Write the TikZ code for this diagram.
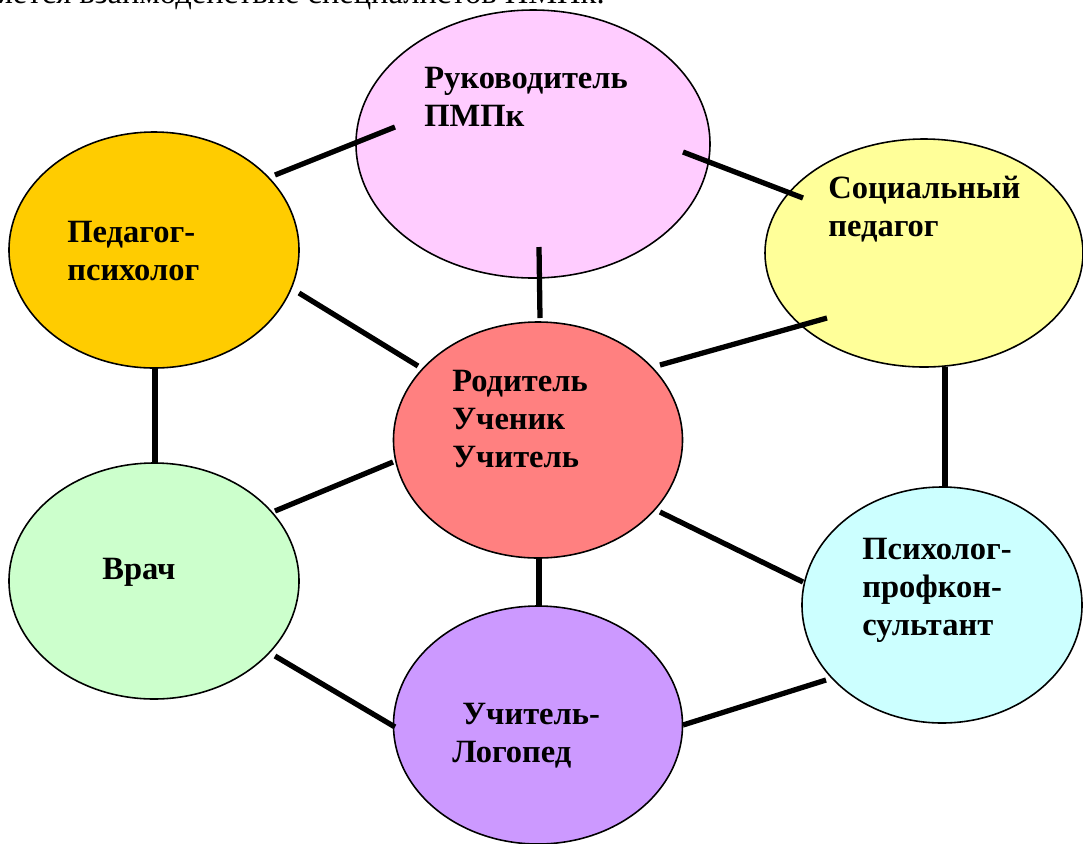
\documentclass[tikz,border=0pt]{standalone}
\usepackage{fontspec}
\setmainfont{Liberation Serif}
\usetikzlibrary{calc,shapes.geometric}
\definecolor{cpink}{HTML}{FFCCFF}
\definecolor{corange}{HTML}{FFCC00}
\definecolor{cyellow}{HTML}{FFFF99}
\definecolor{cred}{HTML}{FF8080}
\definecolor{cgreen}{HTML}{CCFFCC}
\definecolor{cpurple}{HTML}{CC99FF}
\definecolor{ccyan}{HTML}{CCFFFF}
\tikzset{
  oval/.style={ellipse, draw=black, line width=0.9pt, inner sep=0pt},
  lbl/.style={inner sep=0pt, anchor=base west, align=left,
    font=\bfseries\fontsize{18.5}{21.6}\selectfont},
  link/.style={line width=3pt, black},
}
\begin{document}
\begin{tikzpicture}[x=0.02cm, y=-0.02cm]
\useasboundingbox (0,0) rectangle (1083,843);
\clip (0,0) rectangle (1083,843);
\fill[white] (0,0) rectangle (1083,843);
% top clipped text
\node[inner sep=0pt, anchor=base east, font=\fontsize{18.5}{21.6}\selectfont] (cap) at (605,3) {осуществляется взаимодействие специалистов ПМПк.};
% ellipses
\node[oval, fill=cpink, minimum width=354*0.02cm, minimum height=268*0.02cm] (T) at (533,144) {};
\node[oval, fill=corange, minimum width=290*0.02cm, minimum height=236*0.02cm] (PP) at (154,250) {};
\node[oval, fill=cyellow, minimum width=318*0.02cm, minimum height=228*0.02cm] (SP) at (924,253) {};
\node[oval, fill=cred, minimum width=289*0.02cm, minimum height=236*0.02cm] (C) at (538,440) {};
\node[oval, fill=cgreen, minimum width=290*0.02cm, minimum height=236*0.02cm] (V) at (154,581) {};
\node[oval, fill=cpurple, minimum width=289*0.02cm, minimum height=238*0.02cm] (UL) at (538,725) {};
\node[oval, fill=ccyan, minimum width=280*0.02cm, minimum height=236*0.02cm] (PK) at (942,605) {};
% labels (anchored at the baseline of the last line)
\node[lbl] (tT) at (424,126) {Руководитель\\ПМПк};
\node[lbl] (tPP) at (67,280) {Педагог-\\психолог};
\node[lbl] (tSP) at (828,236) {Социальный\\педагог};
\node[lbl] (tC) at (452,467) {Родитель\\Ученик\\Учитель};
\node[lbl] (tV) at (102,579) {Врач};
\node[lbl] (tUL) at (452,762) {\hspace*{0.2cm}Учитель-\\Логопед};
\node[lbl] (tPK) at (862,635) {Психолог-\\профкон-\\сультант};
% connectors
\draw[link] ([shift={(121,-75)}]PP.center) -- ([shift={(-138,-17)}]T.center);
\draw[link] ([shift={(150,8)}]T.center) -- ([shift={(-121,-55)}]SP.center);
\draw[link] ([shift={(6,103)}]T.center) -- ([shift={(2,-122)}]C.center);
\draw[link] ([shift={(145,43)}]PP.center) -- ([shift={(-120,-74)}]C.center);
\draw[link] ([shift={(122,-75)}]C.center) -- ([shift={(-97,65)}]SP.center);
\draw[link] ([shift={(1,117)}]PP.center) -- ([shift={(1,-118)}]V.center);
\draw[link] ([shift={(21,114)}]SP.center) -- ([shift={(3,-118)}]PK.center);
\draw[link] ([shift={(121,-70)}]V.center) -- ([shift={(-145,22)}]C.center);
\draw[link] ([shift={(122,72)}]C.center) -- ([shift={(-139,-23)}]PK.center);
\draw[link] ([shift={(1,118)}]C.center) -- ([shift={(1,-119)}]UL.center);
\draw[link] ([shift={(121,75)}]V.center) -- ([shift={(-143,2)}]UL.center);
\draw[link] ([shift={(145,0)}]UL.center) -- ([shift={(-116,75)}]PK.center);
\end{tikzpicture}
\end{document}
